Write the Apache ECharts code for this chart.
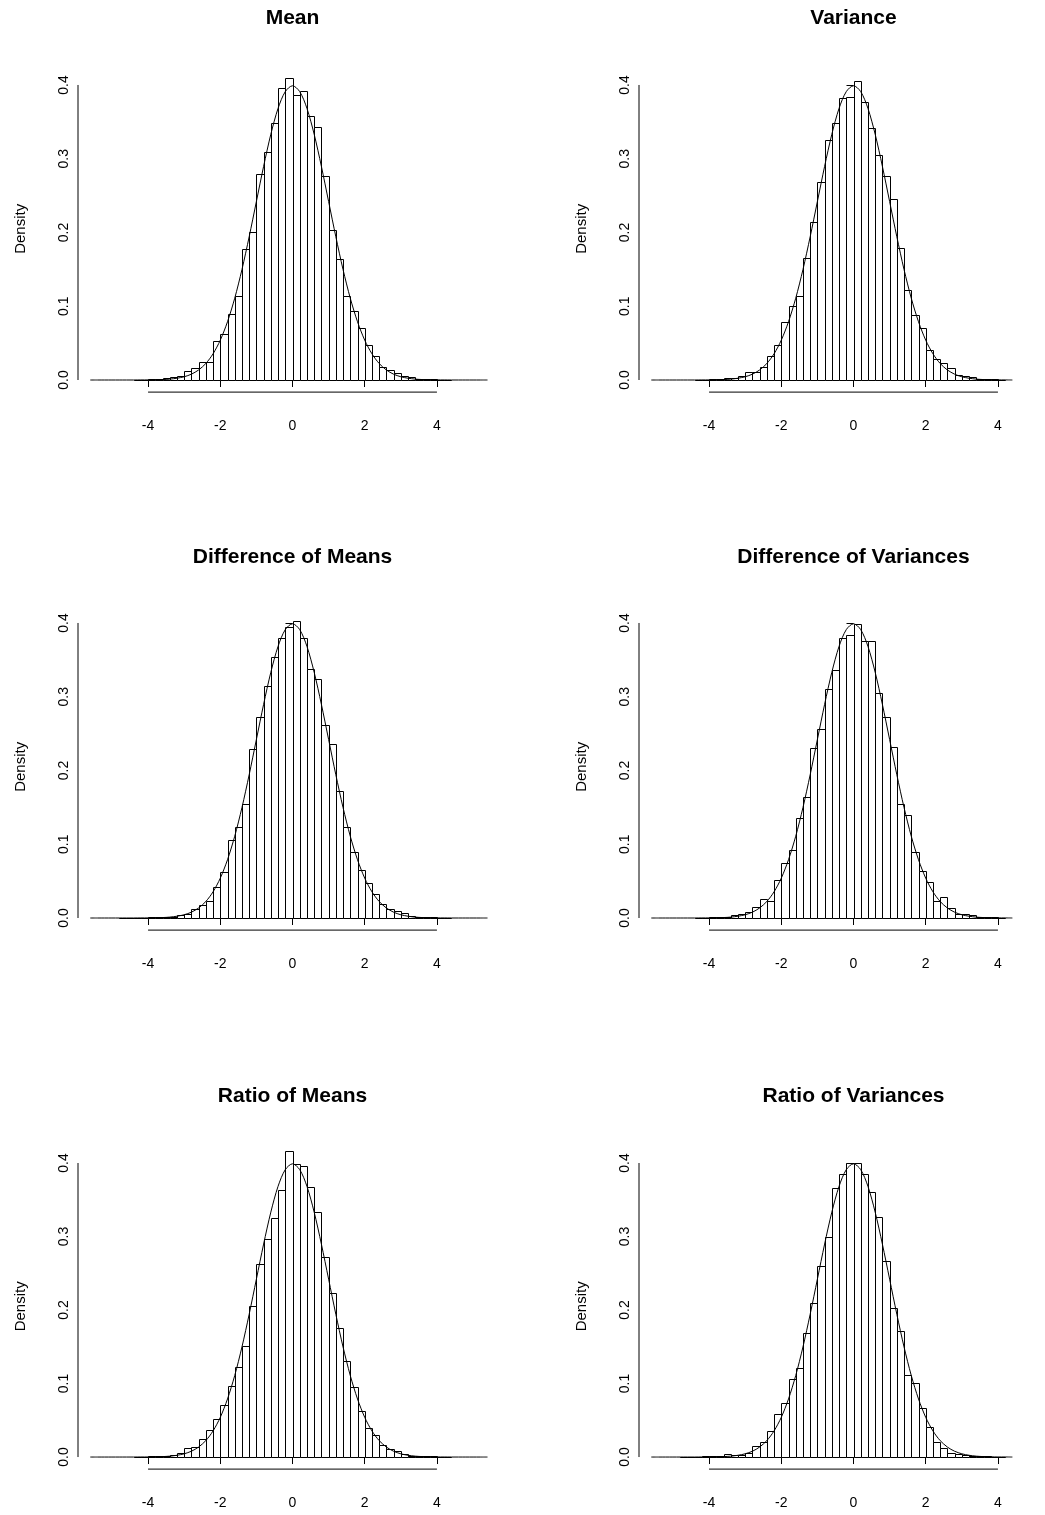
<!DOCTYPE html>
<html>
<head>
<meta charset="utf-8">
<script src="https://cdn.jsdelivr.net/npm/echarts@6/dist/echarts.min.js"></script>
<style>
html,body{margin:0;padding:0;background:#fff;overflow:hidden;}
#chart{width:1100px;height:1515px;}
</style>
</head>
<body>
<div id="chart"></div>
<script>
// ---- data ----
var titles = ["Mean", "Variance", "Difference of Means", "Difference of Variances", "Ratio of Means", "Ratio of Variances"];
var binEdges = [-4.8,-4.6,-4.4,-4.2,-4.0,-3.8,-3.6,-3.4,-3.2,-3.0,-2.8,-2.6,-2.4,-2.2,-2.0,-1.8,-1.6,-1.4,-1.2,-1.0,-0.8,-0.6,-0.4,-0.2,0.0,0.2,0.4,0.6,0.8,1.0,1.2,1.4,1.6,1.8,2.0,2.2,2.4,2.6,2.8,3.0,3.2,3.4,3.6,3.8,4.0,4.2,4.4,4.6];
var densMean = [0,0,0.0005,0.0005,0.001,0.002,0.003,0.004,0.005,0.012,0.016,0.024,0.025,0.053,0.062,0.089,0.114,0.178,0.200,0.279,0.309,0.348,0.396,0.409,0.386,0.392,0.358,0.343,0.277,0.203,0.164,0.114,0.094,0.071,0.047,0.033,0.017,0.013,0.009,0.006,0.004,0.002,0.001,0.001,0.0005,0.0005,0];
var densVariance = [0,0,0.0005,0.0005,0.001,0.001,0.003,0.003,0.005,0.011,0.011,0.018,0.032,0.047,0.078,0.101,0.114,0.166,0.214,0.268,0.325,0.348,0.383,0.384,0.405,0.377,0.342,0.305,0.277,0.245,0.179,0.122,0.088,0.070,0.041,0.028,0.023,0.016,0.007,0.005,0.004,0.002,0.001,0.001,0.0005,0,0];
var densDiffMeans = [0.0005,0.0005,0.0005,0.0005,0.001,0.001,0.002,0.002,0.004,0.005,0.012,0.017,0.023,0.042,0.062,0.106,0.124,0.154,0.229,0.272,0.314,0.354,0.380,0.395,0.402,0.380,0.338,0.324,0.261,0.236,0.172,0.123,0.090,0.065,0.047,0.033,0.019,0.012,0.009,0.007,0.003,0.002,0.001,0.001,0.0005,0.0005,0];
var densDiffVariances = [0,0,0.0005,0.0005,0.001,0.001,0.002,0.004,0.005,0.008,0.015,0.026,0.023,0.052,0.074,0.092,0.136,0.164,0.230,0.256,0.311,0.336,0.380,0.384,0.398,0.375,0.375,0.305,0.272,0.232,0.154,0.139,0.089,0.064,0.049,0.023,0.028,0.013,0.006,0.005,0.004,0.002,0.001,0.001,0.0005,0,0];
var densRatioMeans = [0,0,0.0005,0.0005,0.001,0.001,0.002,0.003,0.006,0.012,0.014,0.024,0.037,0.052,0.071,0.096,0.122,0.151,0.205,0.262,0.297,0.325,0.363,0.416,0.399,0.396,0.367,0.334,0.272,0.223,0.176,0.130,0.095,0.062,0.039,0.030,0.017,0.011,0.008,0.004,0.002,0.002,0.001,0.001,0.0005,0.0005,0];
var densRatioVariances = [0.0005,0.0005,0.0005,0.001,0.001,0.002,0.004,0.003,0.003,0.006,0.015,0.020,0.036,0.059,0.073,0.106,0.121,0.169,0.209,0.260,0.299,0.366,0.385,0.400,0.400,0.385,0.360,0.327,0.267,0.203,0.172,0.112,0.101,0.067,0.041,0.020,0.012,0.006,0.004,0.003,0.002,0.001,0.001,0.0005,0.0005,0,0];
var curveX = [-5.6,-5.4,-5.2,-5.0,-4.8,-4.6,-4.4,-4.2,-4.0,-3.8,-3.6,-3.4,-3.2,-3.0,-2.8,-2.6,-2.4,-2.2,-2.0,-1.8,-1.6,-1.4,-1.2,-1.0,-0.8,-0.6,-0.4,-0.2,0.0,0.2,0.4,0.6,0.8,1.0,1.2,1.4,1.6,1.8,2.0,2.2,2.4,2.6,2.8,3.0,3.2,3.4,3.6,3.8,4.0,4.2,4.4,4.6,4.8,5.0,5.2,5.4];
var curveY = [0,0,0,0,0,0,0,0.0001,0.0001,0.0003,0.0006,0.0012,0.0024,0.0044,0.0079,0.0136,0.0224,0.0355,0.0540,0.0790,0.1109,0.1497,0.1942,0.2420,0.2897,0.3332,0.3683,0.3910,0.3989,0.3910,0.3683,0.3332,0.2897,0.2420,0.1942,0.1497,0.1109,0.0790,0.0540,0.0355,0.0224,0.0136,0.0079,0.0044,0.0024,0.0012,0.0006,0.0003,0.0001,0.0001,0,0,0,0,0,0];
var curveEndByColumn = [5.4, 4.4];
var xTicks = [-4,-2,0,2,4];
var yTicks = [0,0.1,0.2,0.3,0.4];
var panelDens = [densMean, densVariance, densDiffMeans, densDiffVariances, densRatioMeans, densRatioVariances];

// ---- layout ----
var X_MIN = -5.94, X_MAX = 5.94;
var Y_MIN = -0.0164, Y_MAX = 0.4264;
var colLeft = [78, 639];
var colWidth = 429;
var rowTop = [65.5, 603.5, 1143.6];
var rowHeight = [326.6, 326.6, 325.5];
var titleTop = [8, 547, 1086];
var FONT = "Liberation Sans, Arial, Helvetica, sans-serif";

var grids = [], xAxes = [], yAxes = [], series = [], titleArr = [];
for (var p = 0; p < 6; p++) {
  var r = Math.floor(p / 2), c = p % 2;
  grids.push({left: colLeft[c], top: rowTop[r], width: colWidth, height: rowHeight[r], containLabel: false});
  titleArr.push({
    text: titles[p], left: colLeft[c] + colWidth / 2, top: titleTop[r], textAlign: 'center', padding: 0,
    textStyle: {fontFamily: FONT, fontWeight: 'bold', fontSize: 21, color: '#000'}
  });
  xAxes.push({
    type: 'value', gridIndex: p, min: X_MIN, max: X_MAX,
    axisLine: {show: false}, splitLine: {show: false},
    axisTick: {show: true, customValues: xTicks, length: 7, lineStyle: {color: '#000', width: 1}},
    axisLabel: {show: true, customValues: xTicks, margin: 27, color: '#000', fontFamily: FONT, fontSize: 14,
      formatter: function (v) { return String(Math.round(v)); }}
  });
  yAxes.push({
    type: 'value', gridIndex: p, min: Y_MIN, max: Y_MAX,
    name: 'Density', nameLocation: 'middle', nameGap: 50, nameRotate: 90,
    nameTextStyle: {fontFamily: FONT, fontSize: 15, color: '#000'},
    axisLine: {show: false}, splitLine: {show: false},
    axisTick: {show: true, customValues: yTicks, length: 7, lineStyle: {color: '#000', width: 1}},
    axisLabel: {show: true, customValues: yTicks, rotate: 90, margin: 7, color: '#000', fontFamily: FONT, fontSize: 14,
      formatter: function (v) { return v.toFixed(1); }}
  });
  var dens = panelDens[p];
  var bars = [];
  for (var i = 0; i < dens.length; i++) {
    if (dens[i] > 0) bars.push([binEdges[i], binEdges[i + 1], dens[i]]);
  }
  series.push({
    type: 'custom', xAxisIndex: p, yAxisIndex: p, data: bars, silent: true,
    renderItem: function (params, api) {
      var a = api.coord([api.value(0), api.value(2)]);
      var b = api.coord([api.value(1), 0]);
      var x0 = Math.round(a[0]) + 0.5, x1 = Math.round(b[0]) + 0.5;
      var y0 = Math.round(a[1]) + 0.5, y1 = Math.round(b[1]) + 0.5;
      return {type: 'rect', shape: {x: x0, y: y0, width: x1 - x0, height: y1 - y0},
        style: {fill: '#fff', stroke: '#000', lineWidth: 1}};
    }
  });
  var pts = [];
  for (var k = 0; k < curveX.length; k++) {
    if (curveX[k] <= curveEndByColumn[c] + 1e-9) pts.push([curveX[k], curveY[k]]);
  }
  series.push({
    type: 'line', xAxisIndex: p, yAxisIndex: p, data: pts, smooth: 0.3, showSymbol: false, symbol: 'none',
    lineStyle: {color: '#000', width: 1}, silent: true, z: 3
  });
  // axis segments (R style: from first to last tick)
  series.push({
    type: 'line', xAxisIndex: p, yAxisIndex: p, clip: false, symbol: 'none', silent: true,
    data: [[xTicks[0], Y_MIN], [xTicks[xTicks.length - 1], Y_MIN]],
    lineStyle: {color: '#000', width: 1}
  });
  series.push({
    type: 'line', xAxisIndex: p, yAxisIndex: p, clip: false, symbol: 'none', silent: true,
    data: [[X_MIN, yTicks[0]], [X_MIN, yTicks[yTicks.length - 1]]],
    lineStyle: {color: '#000', width: 1}
  });
}

var chart = echarts.init(document.getElementById('chart'), null, {renderer: 'canvas'});
chart.setOption({
  backgroundColor: '#fff',
  animation: false,
  title: titleArr,
  grid: grids,
  xAxis: xAxes,
  yAxis: yAxes,
  series: series
});
</script>
</body>
</html>
